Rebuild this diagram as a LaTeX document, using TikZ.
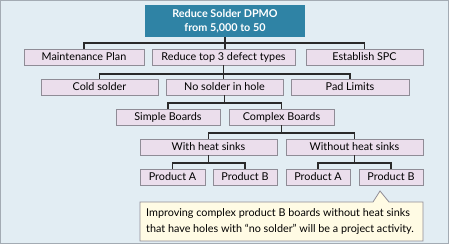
\documentclass[tikz,border=0pt]{standalone}
\usepackage{fontspec}
\setmainfont{Lato}
\definecolor{bg}{HTML}{E2EDF3}
\definecolor{frame}{HTML}{A3ABB3}
\definecolor{rootc}{HTML}{2F83A5}
\definecolor{boxc}{HTML}{EBDEEC}
\definecolor{boxb}{HTML}{8F8C96}
\definecolor{callc}{HTML}{FFFBE4}
\definecolor{linec}{HTML}{2A2A2A}
\begin{document}
\begin{tikzpicture}[x=1pt,y=-1pt,
  box/.style={draw=boxb,line width=0.8pt,fill=boxc,minimum height=16pt,inner sep=0pt,font=\fontsize{10.8}{12}\selectfont,text=black},
  rootbox/.style={fill=rootc,minimum width=160pt,minimum height=32pt,inner sep=0pt,align=center,text=white,font=\fontsize{10.8}{14}\selectfont\bfseries},
  conn/.style={draw=linec,line width=1.2pt}]
\path[use as bounding box] (0,0) rectangle (450,245);
\draw[fill=bg,draw=frame,line width=1pt] (0.5,0.5) rectangle (448.5,243.5);
\node[rootbox] (root) at (225,21) {Reduce Solder DPMO\\from 5,000 to 50};
\node[box,minimum width=120pt] (mp) at (84,57) {Maintenance Plan};
\node[box,minimum width=143pt] (rt) at (223.5,57) {Reduce top 3 defect types};
\node[box,minimum width=117pt] (es) at (364.5,57) {Establish SPC};
\node[box,minimum width=117pt] (cs) at (99.5,87) {Cold solder};
\node[box,minimum width=117pt] (ns) at (224.5,87) {No solder in hole};
\node[box,minimum width=118pt] (pl) at (350,87) {Pad Limits};
\node[box,minimum width=104pt] (sb) at (168,117) {Simple Boards};
\node[box,minimum width=105pt] (cb) at (281.5,117) {Complex Boards};
\node[box,minimum width=137pt] (wh) at (208.5,147) {With heat sinks};
\node[box,minimum width=137pt] (wo) at (354.5,147) {Without heat sinks};
\node[box,minimum width=65pt] (pa1) at (172.5,177) {Product A};
\node[box,minimum width=64pt] (pb1) at (245,177) {Product B};
\node[box,minimum width=64pt] (pa2) at (318,177) {Product A};
\node[box,minimum width=64pt] (pb2) at (391,177) {Product B};
\coordinate (b1) at (0,43);
\coordinate (b2) at (0,74);
\coordinate (b3) at (0,103);
\coordinate (b4) at (0,133);
\coordinate (b5) at (0,163);
\draw[conn] (root.south) -- (root.south |- b1) -| (mp.north);
\draw[conn] (root.south |- b1) -| (es.north);
\draw[conn] (root.south |- b1) -- (rt.north -| root.south);
\draw[conn] (rt.south) -- (rt.south |- b2) -| (cs.north);
\draw[conn] (rt.south |- b2) -| (pl.north);
\draw[conn] (rt.south |- b2) -- (ns.north -| rt.south);
\draw[conn] (ns.south) -- (ns.south |- b3) -| (sb.north);
\draw[conn] (ns.south |- b3) -| (cb.north);
\draw[conn] (cb.south) -- (cb.south |- b4) -| (wh.north);
\draw[conn] (cb.south |- b4) -| (wo.north);
\draw[conn] (wh.south) -- (wh.south |- b5) -| (pa1.north);
\draw[conn] (wh.south |- b5) -| (pb1.north);
\draw[conn] (wo.south) -- (wo.south |- b5) -| (pa2.north);
\draw[conn] (wo.south |- b5) -| (pb2.north);
\draw[fill=callc,draw=boxb,line width=0.8pt,line join=miter] (140,202) -- (373,202) -- (380,191) -- (389,202) -- (423,202) -- (423,241) -- (140,241) -- cycle;
\node[anchor=north west,align=left,inner sep=0pt,font=\fontsize{10.8}{16}\selectfont] (note) at (146,208) {Improving complex product B boards without heat sinks\\that have holes with “no solder” will be a project activity.};
\end{tikzpicture}
\end{document}
